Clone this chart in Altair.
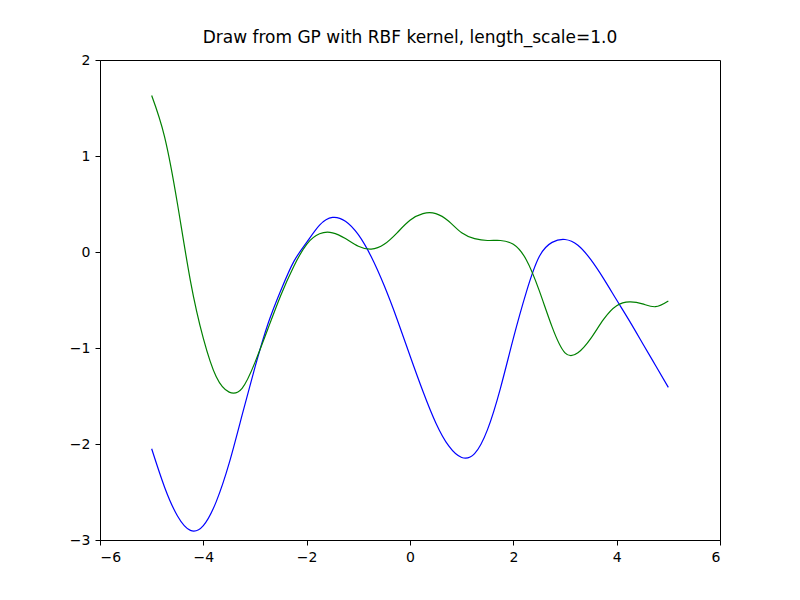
import altair as alt
import pandas as pd

xs = [-5 + 0.25 * i for i in range(41)]
blue = [-2.05, -2.45, -2.75, -2.9, -2.85, -2.6, -2.2, -1.7, -1.2, -0.75, -0.4, -0.1, 0.1,
        0.28, 0.36, 0.32, 0.18, -0.05, -0.35, -0.7, -1.08, -1.45, -1.78, -2.02, -2.14, -2.1,
        -1.85, -1.42, -0.9, -0.42, -0.05, 0.1, 0.13, 0.07, -0.08, -0.28, -0.5, -0.72, -0.95,
        -1.18, -1.41]
green = [1.63, 1.2, 0.5, -0.3, -0.9, -1.3, -1.46, -1.42, -1.15, -0.8, -0.45, -0.15, 0.08,
         0.19, 0.2, 0.14, 0.06, 0.03, 0.08, 0.2, 0.33, 0.4, 0.4, 0.32, 0.2, 0.14, 0.12, 0.12,
         0.08, -0.08, -0.4, -0.78, -1.05, -1.05, -0.9, -0.7, -0.56, -0.52, -0.54, -0.57, -0.51]

df = pd.DataFrame({"x": xs * 2, "y": blue + green,
                   "s": ["blue"] * len(xs) + ["green"] * len(xs)})

font = "DejaVu Sans"
chart = (
    alt.Chart(df)
    .mark_line(strokeWidth=1.2, interpolate="natural")
    .encode(
        x=alt.X("x:Q", scale=alt.Scale(domain=[-6, 6], nice=False),
                axis=alt.Axis(values=[-6, -4, -2, 0, 2, 4, 6], title=None, grid=False)),
        y=alt.Y("y:Q", scale=alt.Scale(domain=[-3, 2], nice=False),
                axis=alt.Axis(values=[-3, -2, -1, 0, 1, 2], title=None, grid=False)),
        color=alt.Color("s:N", scale=alt.Scale(domain=["blue", "green"],
                                               range=["#0000ff", "#008000"]), legend=None),
        detail="s:N",
    )
    .properties(width=620, height=480, autosize="none",
                padding={"left": 92, "top": 52, "right": 72, "bottom": 52},
                title=alt.Title("Draw from GP with RBF kernel, length_scale=1.0",
                                font=font, fontSize=17, fontWeight="normal", offset=6))
    .configure_view(stroke="black", strokeWidth=1)
    .configure_axis(labelFont=font, labelFontSize=14, labelColor="black",
                    domainColor="black", tickColor="black", tickSize=5, labelPadding=5)
)

chart.save("out.html", embed_options={"renderer": "svg", "actions": False})
